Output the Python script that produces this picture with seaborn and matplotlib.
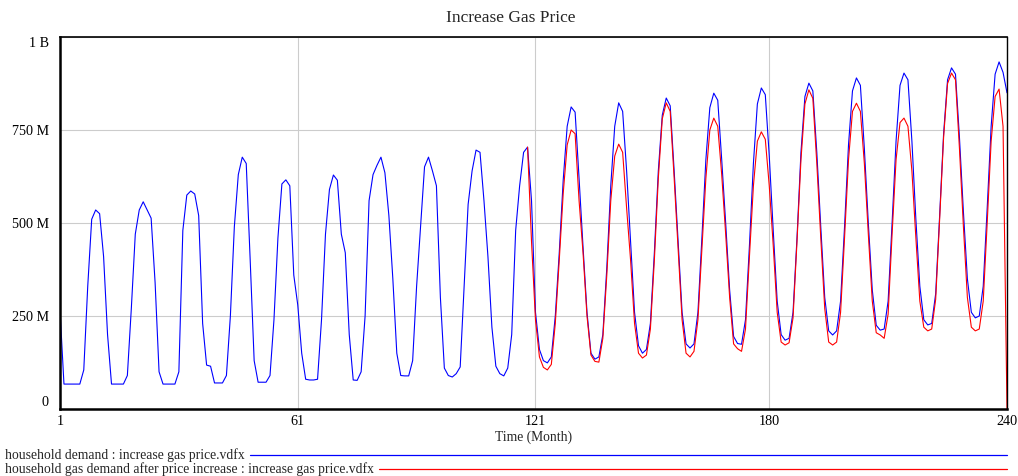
import matplotlib
matplotlib.use("Agg")
import matplotlib.pyplot as plt
import pandas as pd
import seaborn as sns
from matplotlib.lines import Line2D

# monthly values in millions
months = list(range(1, 241))

household_demand = [
    266, 67, 67, 67, 67, 67, 105, 330, 510, 535, 525, 410,
    200, 67, 67, 67, 67, 90, 270, 470, 535, 557, 535, 513,
    340, 100, 67, 67, 67, 67, 100, 480, 575, 586, 578, 520,
    230, 118, 115, 70, 70, 70, 90, 250, 490, 630, 677, 660,
    400, 130, 72, 72, 72, 90, 240, 460, 605, 616, 600, 360,
    280, 150, 80, 78, 78, 80, 240, 470, 590, 629, 615, 470,
    420, 200, 78, 77, 100, 250, 560, 630, 655, 677, 635, 520,
    350, 150, 90, 89, 89, 130, 330, 490, 651, 677, 640, 600,
    300, 110, 90, 86, 95, 113, 330, 550, 640, 696, 690, 560,
    410, 220, 115, 95, 89, 110, 200, 480, 600, 690, 704, 560,
    260, 160, 130, 124, 140, 250, 420, 616, 760, 812, 798, 620,
    436, 260, 150, 134, 140, 200, 380, 600, 760, 823, 800, 640,
    450, 260, 170, 150, 160, 230, 420, 640, 790, 836, 815, 640,
    450, 260, 175, 164, 175, 260, 460, 670, 810, 849, 830, 670,
    500, 320, 195, 176, 174, 240, 440, 660, 820, 863, 845, 680,
    480, 290, 200, 185, 190, 260, 460, 690, 840, 876, 855, 690,
    490, 300, 210, 199, 210, 290, 490, 710, 855, 890, 870, 700,
    500, 320, 225, 212, 215, 290, 500, 720, 870, 903, 885, 720,
    510, 330, 240, 226, 230, 310, 520, 740, 885, 917, 900, 730,
    530, 350, 260, 245, 250, 330, 540, 760, 900, 933, 905, 850,
]

# the second run only shows from month 119 on
after_start = 119
household_gas_demand_after = [
    704, 450,
    240, 140, 112, 105, 120, 230, 400, 580, 710, 750, 740, 560,
    420, 250, 145, 128, 126, 190, 360, 560, 680, 712, 690, 540,
    400, 230, 150, 137, 145, 215, 400, 620, 780, 823, 800, 620,
    430, 240, 150, 140, 155, 240, 430, 620, 750, 782, 760, 630,
    470, 300, 175, 162, 155, 215, 410, 600, 720, 745, 725, 600,
    440, 260, 180, 172, 178, 245, 450, 670, 820, 858, 835, 660,
    460, 270, 180, 172, 180, 260, 460, 670, 800, 822, 800, 660,
    470, 290, 205, 199, 190, 255, 470, 670, 770, 782, 760, 640,
    460, 290, 220, 210, 215, 295, 510, 730, 875, 903, 885, 700,
    490, 300, 220, 210, 215, 290, 500, 720, 840, 860, 760, 0,
]

x_ticks = [1, 61, 121, 180, 240]
y_ticks = [0, 250, 500, 750, 1000]
y_tick_labels = ["0", "250 M", "500 M", "750 M", "1 B"]

legend_labels = [
    "household demand : increase gas price.vdfx",
    "household gas demand after price increase : increase gas price.vdfx",
]
line_colors = ["#0000ff", "#ff0000"]

df_base = pd.DataFrame({"month": months, "demand": household_demand})
df_after = pd.DataFrame({"month": months[after_start - 1:],
                         "demand": household_gas_demand_after})

sns.set_theme(style="white")
plt.rcParams["font.family"] = ["Liberation Serif", "DejaVu Serif"]

W, H = 1018, 476
fig = plt.figure(figsize=(W / 100, H / 100), dpi=100)
ax = fig.add_axes([60 / W, 1 - 409 / H, 947 / W, 372 / H])

sns.lineplot(data=df_base, x="month", y="demand", color=line_colors[0],
             linewidth=0.8, errorbar=None, ax=ax)
sns.lineplot(data=df_after, x="month", y="demand", color=line_colors[1],
             linewidth=0.8, errorbar=None, ax=ax)

ax.set_xlim(1, 240)
ax.set_ylim(0, 1000)
ax.set_xticks(x_ticks)
ax.set_yticks(y_ticks)
ax.set_yticklabels(y_tick_labels)
ax.set_axisbelow(True)
ax.grid(True, color="#cccccc", linewidth=0.8)
ax.tick_params(length=0, labelsize=10.2, colors="black")
ax.tick_params(axis="y", pad=8)
ax.tick_params(axis="x", pad=4)
ylabs = ax.get_yticklabels()
ylabs[0].set_va("bottom")
ylabs[-1].set_va("top")

ax.set_ylabel("")
ax.set_xlabel("Time (Month)", fontsize=9.8, labelpad=2)

for side, lw in [("left", 1.8), ("bottom", 1.8), ("top", 1.2), ("right", 1.0)]:
    ax.spines[side].set_color("black")
    ax.spines[side].set_linewidth(lw)

fig.text(0.502, 1 - 18 / H, "Increase Gas Price", ha="center", va="center",
         fontsize=12.5)

renderer = fig.canvas.get_renderer()
for i, (lab, col) in enumerate(zip(legend_labels, line_colors)):
    yy = 1 - (455 + 14 * i) / H
    t = fig.text(5 / W, yy, lab, ha="left", va="center", fontsize=9.8)
    bb = t.get_window_extent(renderer)
    fig.add_artist(Line2D([(bb.x1 + 5) / W, 1007 / W], [yy, yy],
                          transform=fig.transFigure, color=col, linewidth=0.9))

fig.savefig("out.png", dpi=100)
